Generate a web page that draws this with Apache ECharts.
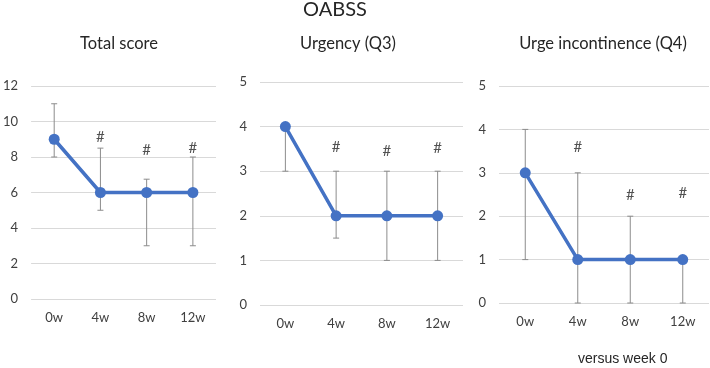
<!DOCTYPE html>
<html>
<head>
<meta charset="utf-8">
<script src="https://cdn.jsdelivr.net/npm/echarts@6/dist/echarts.min.js"></script>
<style>
  html, body { margin: 0; padding: 0; background: #fff; }
  #chart { width: 710px; height: 368px; }
</style>
</head>
<body>
<div id="chart"></div>
<script>
var weeks = ['0w', '4w', '8w', '12w']
var panelTitles = ['Total score', 'Urgency (Q3)', 'Urge incontinence (Q4)']

// median values
var totalMean = [9, 6, 6, 6]
var urgencyMean = [4, 2, 2, 2]
var urgeMean = [3, 1, 1, 1]

// error bar low / high
var totalLow = [8, 5, 3, 3]
var totalHigh = [11, 8.5, 6.75, 8]
var urgencyLow = [3, 1.5, 1, 1]
var urgencyHigh = [4, 3, 3, 3]
var urgeLow = [1, 0, 0, 0]
var urgeHigh = [4, 3, 2, 1]

// where the "#" marks sit (value units), null = no mark
var totalHash = [null, 9.1, 8.4, 8.5]
var urgencyHash = [null, 3.54, 3.45, 3.52]
var urgeHash = [null, 3.6, 2.49, 2.53]

var yMax = [12, 5, 5]
var yStep = [2, 1, 1]

var font = 'Lato, "Open Sans", sans-serif'
var blue = '#4472c4'

var chart = echarts.init(document.getElementById('chart'))

function renderErr(params, api) {
  var x = api.value(0)
  var lo = api.coord([x, api.value(1)])
  var hi = api.coord([x, api.value(2)])
  var w = 3
  var st = { stroke: '#8c8c8c', lineWidth: 1 }
  return {
    type: 'group',
    children: [
      { type: 'line', shape: { x1: lo[0], y1: lo[1], x2: hi[0], y2: hi[1] }, style: st },
      { type: 'line', shape: { x1: lo[0] - w, y1: lo[1], x2: lo[0] + w, y2: lo[1] }, style: st },
      { type: 'line', shape: { x1: hi[0] - w, y1: hi[1], x2: hi[0] + w, y2: hi[1] }, style: st }
    ]
  }
}

var means = [totalMean, urgencyMean, urgeMean]
var lows = [totalLow, urgencyLow, urgeLow]
var highs = [totalHigh, urgencyHigh, urgeHigh]
var hashes = [totalHash, urgencyHash, urgeHash]

var grids = [
  { left: 27, top: 86, width: 189, height: 213 },
  { left: 260, top: 82, width: 203, height: 223 },
  { left: 499, top: 86, width: 210, height: 217 }
]
var titleX = [119, 348, 603]

var xAxes = [], yAxes = [], series = []
var titles = [{
  text: 'OABSS', left: 335, top: 0, padding: 0, textAlign: 'center',
  textStyle: { fontFamily: font, fontSize: 20, fontWeight: 'normal', color: '#262626' }
}]

for (let i = 0; i < 3; i++) {
  titles.push({
    text: panelTitles[i], left: titleX[i], top: 35, padding: 0, textAlign: 'center',
    textStyle: { fontFamily: font, fontSize: 16.5, fontWeight: 'normal', color: '#262626' }
  })
  xAxes.push({
    type: 'category', gridIndex: i, data: weeks,
    axisLine: { show: false }, axisTick: { show: false },
    axisLabel: { margin: 12, fontFamily: font, fontSize: 13, color: '#404040' }
  })
  yAxes.push({
    type: 'value', gridIndex: i, min: 0, max: yMax[i], interval: yStep[i],
    axisLine: { show: false }, axisTick: { show: false },
    axisLabel: { margin: 13, fontFamily: font, fontSize: 13, color: '#404040' },
    splitLine: { lineStyle: { color: '#d9d9d9', width: 1 } }
  })
  let errData = []
  for (let j = 0; j < weeks.length; j++) {
    errData.push([j, lows[i][j], highs[i][j]])
  }
  series.push({
    type: 'custom', xAxisIndex: i, yAxisIndex: i,
    renderItem: renderErr, data: errData, z: 1, silent: true
  })
  series.push({
    type: 'line', xAxisIndex: i, yAxisIndex: i, data: means[i],
    symbol: 'circle', symbolSize: 11, z: 3,
    lineStyle: { color: blue, width: 3.5 },
    itemStyle: { color: blue }
  })
  series.push({
    type: 'scatter', xAxisIndex: i, yAxisIndex: i, data: hashes[i],
    symbolSize: 1, itemStyle: { color: 'rgba(0,0,0,0)' }, z: 4,
    label: {
      show: true, position: 'inside', formatter: '#',
      fontFamily: font, fontSize: 15, color: '#262626'
    }
  })
}

var option = {
  animation: false,
  title: titles,
  grid: grids,
  xAxis: xAxes,
  yAxis: yAxes,
  series: series,
  graphic: [{
    type: 'text', left: 578, top: 352,
    style: { text: 'versus week 0', fontFamily: '"Liberation Sans", Arial, sans-serif', fontSize: 14, fill: '#262626' }
  }]
}
chart.setOption(option)
</script>
</body>
</html>
